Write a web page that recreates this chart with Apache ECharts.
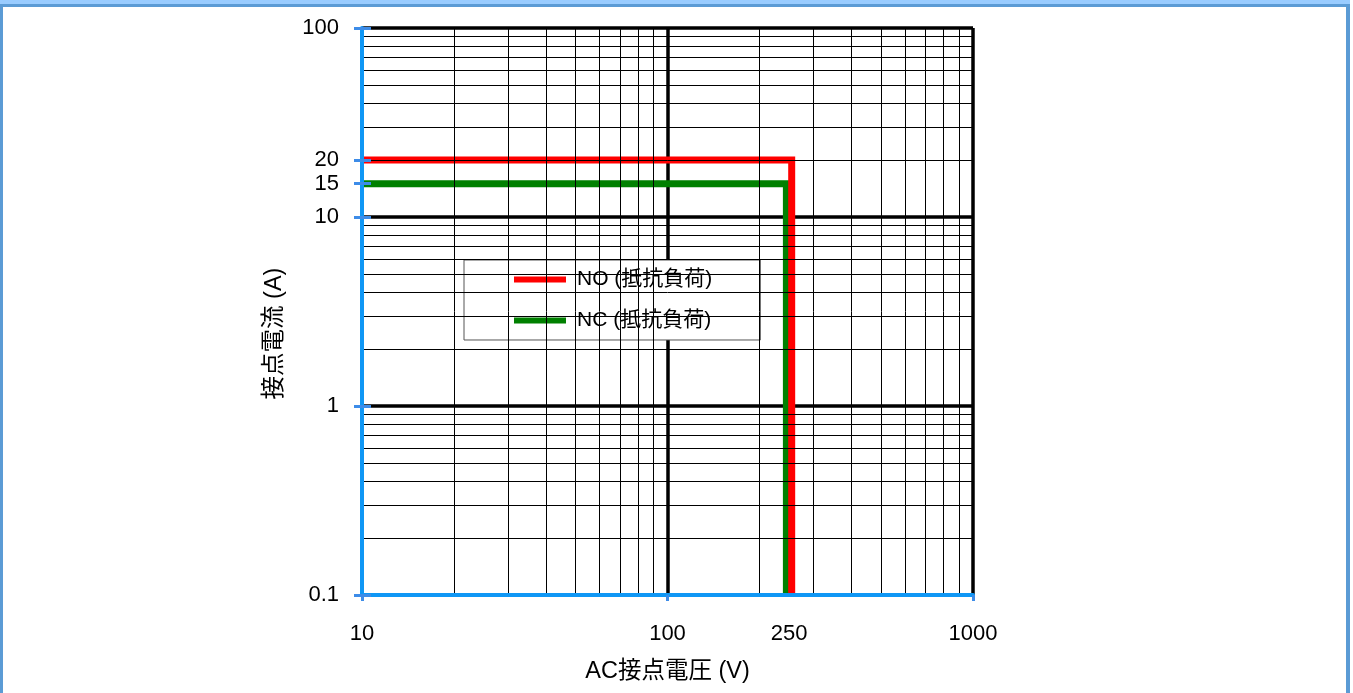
<!DOCTYPE html>
<html>
<head>
<meta charset="utf-8">
<script src="https://cdn.jsdelivr.net/npm/echarts@6/dist/echarts.min.js"></script>
<style>
html,body{margin:0;padding:0;background:#fff;}
#frame{position:absolute;left:0;top:0;width:1350px;height:700px;box-sizing:border-box;border-left:3px solid #5b9bd5;border-right:4px solid #5b9bd5;border-top:7px solid #5b9bd5;}
#strip{position:absolute;left:0;top:0;width:1350px;height:4px;background:#99ccff;}
#chart{position:absolute;left:0;top:0;width:1353px;height:693px;}
</style>
</head>
<body>
<div id="frame"></div>
<div id="strip"></div>
<div id="chart"></div>
<script>
// ---- data ----
const voltageTicks = [10, 100, 250, 1000];
const currentTicks = [0.1, 1, 10, 15, 20, 100];
const seriesNames = ['NO (抵抗負荷)', 'NC (抵抗負荷)'];
const noVoltage = [10, 255, 255];
const noCurrent = [20, 20, 0.1];
const ncVoltage = [10, 245, 245];
const ncCurrent = [15, 15, 0.1];
const xDecades = [10, 100];
const yDecades = [0.1, 1, 10];
const minorSteps = [2, 3, 4, 5, 6, 7, 8, 9];
const xName = 'AC接点電圧 (V)';
const yName = '接点電流 (A)';

const FONT = "'Liberation Sans', 'Noto Sans CJK JP', sans-serif";
const BLUE = '#0f97f5';
const TICKBLUE = '#3d8ce8';

const minorLines = [];
xDecades.forEach(d => minorSteps.forEach(k => minorLines.push({ xAxis: +(k * d).toPrecision(6) })));
yDecades.forEach(d => minorSteps.forEach(k => minorLines.push({ yAxis: +(k * d).toPrecision(6) })));

const fmt = v => String(+Number(v).toPrecision(6));
const zip = (a, b) => a.map((v, i) => [v, b[i]]);

const grid = { left: 362, right: 380, top: 28, bottom: 98 };

const chart = echarts.init(document.getElementById('chart'), null, { renderer: 'canvas' });
chart.setOption({
  backgroundColor: 'transparent',
  animation: false,
  textStyle: { fontFamily: FONT },
  grid: grid,
  legend: {
    orient: 'vertical',
    left: 464, top: 260,
    backgroundColor: '#fff',
    borderColor: '#555', borderWidth: 1,
    padding: [9, 48, 9, 50],
    itemWidth: 52, itemHeight: 6, itemGap: 20,
    icon: 'rect',
    data: seriesNames,
    textStyle: { fontFamily: FONT, fontSize: 21, color: '#000', padding: [0, 0, 0, 6] }
  },
  xAxis: [
    {
      type: 'log', logBase: 10, min: 10, max: 1000, position: 'bottom', z: 0,
      axisLine: { show: false }, axisTick: { show: false }, axisLabel: { show: false },
      splitLine: { show: true, lineStyle: { color: '#000', width: 3.5 } }
    },
    {
      type: 'log', logBase: 10, min: 10, max: 1000, position: 'bottom', z: 5,
      name: xName, nameLocation: 'middle', nameGap: 65,
      nameTextStyle: { fontFamily: FONT, fontSize: 23.5, color: '#000' },
      axisLine: { show: true, lineStyle: { color: BLUE, width: 4 } },
      axisTick: { show: true, length: 6, lineStyle: { color: TICKBLUE, width: 3 } },
      axisLabel: { show: true, margin: 28, customValues: voltageTicks, formatter: fmt,
        fontFamily: FONT, fontSize: 22, color: '#000' },
      splitLine: { show: false }
    }
  ],
  yAxis: [
    {
      type: 'log', logBase: 10, min: 0.1, max: 100, position: 'left', z: 0,
      axisLine: { show: false }, axisTick: { show: false }, axisLabel: { show: false },
      splitLine: { show: true, lineStyle: { color: '#000', width: 3.5 } }
    },
    {
      type: 'log', logBase: 10, min: 0.1, max: 100, position: 'left', z: 5,
      name: yName, nameLocation: 'middle', nameGap: 76, nameRotate: 90,
      nameTextStyle: { fontFamily: FONT, fontSize: 23.5, color: '#000', padding: [0, 44, 0, 0] },
      axisLine: { show: true, lineStyle: { color: BLUE, width: 4 } },
      axisTick: { show: true, length: 8, customValues: currentTicks, lineStyle: { color: TICKBLUE, width: 3 } },
      axisLabel: { show: true, margin: 23, customValues: currentTicks, formatter: fmt,
        fontFamily: FONT, fontSize: 22, color: '#000', padding: [4, 0, 0, 0] },
      splitLine: { show: false }
    },
    {
      type: 'log', logBase: 10, min: 0.1, max: 100, position: 'left', z: 6,
      axisLine: { show: false },
      axisTick: { show: true, inside: true, length: 9, customValues: currentTicks, lineStyle: { color: TICKBLUE, width: 3 } },
      axisLabel: { show: false },
      splitLine: { show: false }
    }
  ],
  series: [
    {
      type: 'line', name: '__minor', xAxisIndex: 0, yAxisIndex: 0, z: 1,
      data: [], silent: true,
      markLine: {
        silent: true, symbol: ['none', 'none'], animation: false,
        label: { show: false },
        lineStyle: { color: '#000', width: 1, type: 'solid' },
        emphasis: { disabled: true },
        data: minorLines
      }
    },
    {
      type: 'line', name: seriesNames[0], xAxisIndex: 0, yAxisIndex: 0, z: 4,
      data: zip(noVoltage, noCurrent), showSymbol: false, symbol: 'none',
      itemStyle: { color: '#ff0000' },
      lineStyle: { color: '#ff0000', width: 7, join: 'miter', cap: 'butt' }
    },
    {
      type: 'line', name: seriesNames[1], xAxisIndex: 0, yAxisIndex: 0, z: 3,
      data: zip(ncVoltage, ncCurrent), showSymbol: false, symbol: 'none',
      itemStyle: { color: '#008000' },
      lineStyle: { color: '#008000', width: 7, join: 'miter', cap: 'butt' }
    }
  ]
});
</script>
</body>
</html>
